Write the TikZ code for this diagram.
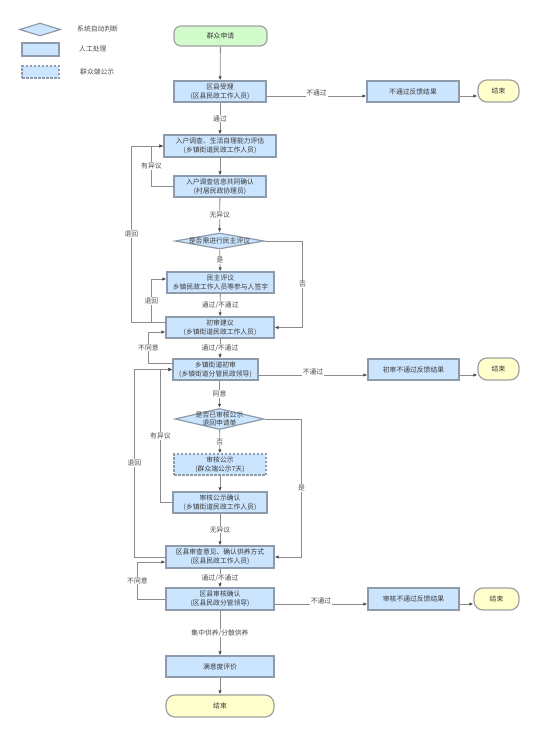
\documentclass[tikz,border=0pt]{standalone}
\usepackage{fontspec}
\setmainfont{Noto Sans CJK SC}
\usetikzlibrary{shapes.geometric,arrows.meta,calc}
\definecolor{boxfill}{HTML}{CCE5FF}
\definecolor{boxline}{HTML}{8E9BAA}
\definecolor{startfill}{HTML}{D2FBCC}
\definecolor{endfill}{HTML}{FFFFCC}
\definecolor{rimgray}{HTML}{A0A0A0}
\definecolor{linegray}{HTML}{8C8C8C}
\definecolor{txt}{HTML}{3A3A3A}
\begin{document}
\begin{tikzpicture}[x=1pt,y=-1pt,
  every node/.style={font=\fontsize{6.8}{8.6}\selectfont, text=txt, inner sep=0pt, align=center},
  box/.style={draw=boxline, fill=boxfill, line width=1.2pt, rectangle},
  dbox/.style={box, dash pattern=on 2.5pt off 1.5pt},
  startbox/.style={draw=rimgray, fill=startfill, line width=1.2pt, rounded corners=7pt},
  endbox/.style={draw=rimgray, fill=endfill, line width=1.2pt, rounded corners=9pt},
  dia/.style={draw=boxline, fill=boxfill, line width=1.2pt, diamond, inner sep=0pt},
  arr/.style={draw=linegray, line width=0.8pt, -{Latex[length=4pt,width=3.4pt,color=black!70]}},
  lbl/.style={fill=white, inner sep=0.8pt, text=black!70},
  leg/.style={anchor=west, text=black!70}
]
\useasboundingbox (0,0) rectangle (554,732);

% legend
\node[dia, minimum width=41pt, minimum height=13pt] (ld) at (40,29.5) {};
\node[leg] (ldt) at (77,29) {系统自动判断};
\node[box, minimum width=37pt, minimum height=13pt] (lb) at (40.5,49.5) {};
\node[leg] (lbt) at (79,48.5) {人工处理};
\node[dbox, minimum width=37pt, minimum height=12pt] (lc) at (40.5,72) {};
\node[leg] (lct) at (80,72) {群众端公示};

% nodes
\node[startbox, minimum width=93pt, minimum height=20pt] (s) at (220.5,36) {群众申请};
\node[box, minimum width=92pt, minimum height=21pt] (n1) at (220,91.5) {区县受理\\(区县民政工作人员)};
\node[box, minimum width=92pt, minimum height=21pt] (f1) at (413,91.5) {不通过反馈结果};
\node[endbox, minimum width=41pt, minimum height=22pt] (e1) at (498.5,91) {结束};
\node[box, minimum width=112pt, minimum height=22pt] (n2) at (220,146) {入户调查、生活自理能力评估\\(乡镇街道民政工作人员)};
\node[box, minimum width=92pt, minimum height=21pt] (n3) at (220,186.5) {入户调查信息共同确认\\(村居民政协理员)};
\node[dia, minimum width=89pt, minimum height=16pt, label={center:是否需进行民主评议}] (d1) at (219.5,241) {};
\node[box, minimum width=107pt, minimum height=21pt] (n4) at (220.5,282.5) {民主评议\\乡镇民政工作人员等参与人签字};
\node[box, minimum width=108pt, minimum height=21pt] (n5) at (220,327.5) {初审建议\\(乡镇街道民政工作人员)};
\node[box, minimum width=85pt, minimum height=21pt] (n6) at (215.5,369.5) {乡镇街道初审\\(乡镇街道分管民政领导)};
\node[box, minimum width=91pt, minimum height=21pt] (f2) at (413.5,369.5) {初审不通过反馈结果};
\node[endbox, minimum width=41pt, minimum height=22pt] (e2) at (498.5,369) {结束};
\node[dia, minimum width=89pt, minimum height=21pt, label={center:是否已审核公示\\退回申请单}] (d2) at (219.5,419) {};
\node[dbox, minimum width=92pt, minimum height=21pt] (n7) at (220,464.5) {审核公示\\(群众端公示7天)};
\node[box, minimum width=94pt, minimum height=21pt] (n8) at (220,502.5) {审核公示确认\\(乡镇街道民政工作人员)};
\node[box, minimum width=108pt, minimum height=22pt] (n9) at (220,557) {区县审查意见、确认供养方式\\(区县民政工作人员)};
\node[box, minimum width=108pt, minimum height=22pt] (n10) at (220,599) {区县审核确认\\(区县民政分管领导)};
\node[box, minimum width=91pt, minimum height=22pt] (f3) at (413.5,599) {审核不通过反馈结果};
\node[endbox, minimum width=45pt, minimum height=22pt] (e3) at (496.5,599) {结束};
\node[box, minimum width=108pt, minimum height=21pt] (n11) at (220,666.5) {满意度评价};
\node[endbox, minimum width=108pt, minimum height=22pt] (e4) at (220,706) {结束};

% connectors
\draw[arr] (s) -- (n1);
\draw[arr] ($(n1.east)+(0,4.5)$) -- node[lbl, yshift=3pt]{不通过} ($(f1.west)+(0,4.5)$);
\draw[arr] ($(f1.east)+(0,4.5)$) -- ($(e1.west)+(0,5)$);
\draw[arr] (n1) -- node[lbl]{通过} (n2);
\draw[arr] (n3.west) -- ++(-22,0) |- node[pos=.25,lbl]{有异议} (n2.west);
\draw[arr] ($(n5.west)+(0,-5)$) -- ++(-34,0) |- node[pos=.25,lbl]{退回} (n2.west);
\draw[arr] (n2) -- (n3);
\draw[arr] (n3) -- node[lbl]{无异议} (d1);
\draw[arr] (d1) -- node[lbl]{是} (n4);
\draw[arr] (d1.east) -- ++(38,0) |- node[pos=.25,lbl]{否} (n5.east);
\draw[arr] (n4) -- node[lbl]{通过/不通过} (n5);
\draw[arr] ($(n5.west)+(0,-5)$) -- ++(-14,0) |- node[pos=.25,lbl]{退回} ($(n4.west)+(0,-3.5)$);
\draw[arr] (n5.south) -- node[lbl]{通过/不通过} (n5.south |- n6.north);
\draw[arr] ($(n6.west)+(0,-6.5)$) -- ++(-24,0) |- node[pos=.25,lbl]{不同意} ($(n5.west)+(0,4.5)$);
\draw[arr] ($(n6.east)+(0,5.5)$) -- node[lbl, yshift=3pt]{不通过} ($(f2.west)+(0,5.5)$);
\draw[arr] ($(f2.east)+(0,5.5)$) -- ($(e2.west)+(0,6)$);
\draw[arr] (n6.south -| d2.north) -- node[lbl]{同意} (d2.north);
\draw[arr] (d2) -- node[lbl]{否} (n7);
\draw[arr] (n7) -- (n8);
\draw[arr] (n8.west) -- ++(-12,0) |- node[pos=.25,lbl]{有异议} (n6.west);
\draw[arr] (n9.west) -- ++(-31,0) |- node[pos=.25,lbl]{退回} (n6.west);
\draw[arr] (d2.east) -- ++(37,0) |- node[pos=.25,lbl]{是} (n9.east);
\draw[arr] (n8) -- node[lbl]{无异议} (n9);
\draw[arr] (n9) -- node[lbl]{通过/不通过} (n10);
\draw[arr] (n10.west) -- ++(-28,0) |- node[pos=.25,lbl]{不同意} ($(n9.west)+(0,5)$);
\draw[arr] ($(n10.east)+(0,5)$) -- node[lbl, yshift=3pt]{不通过} ($(f3.west)+(0,5)$);
\draw[arr] ($(f3.east)+(0,5)$) -- ($(e3.west)+(0,5)$);
\draw[arr] (n10) -- node[lbl]{集中供养/分散供养} (n11);
\draw[arr] (n11) -- (e4);
\end{tikzpicture}
\end{document}
